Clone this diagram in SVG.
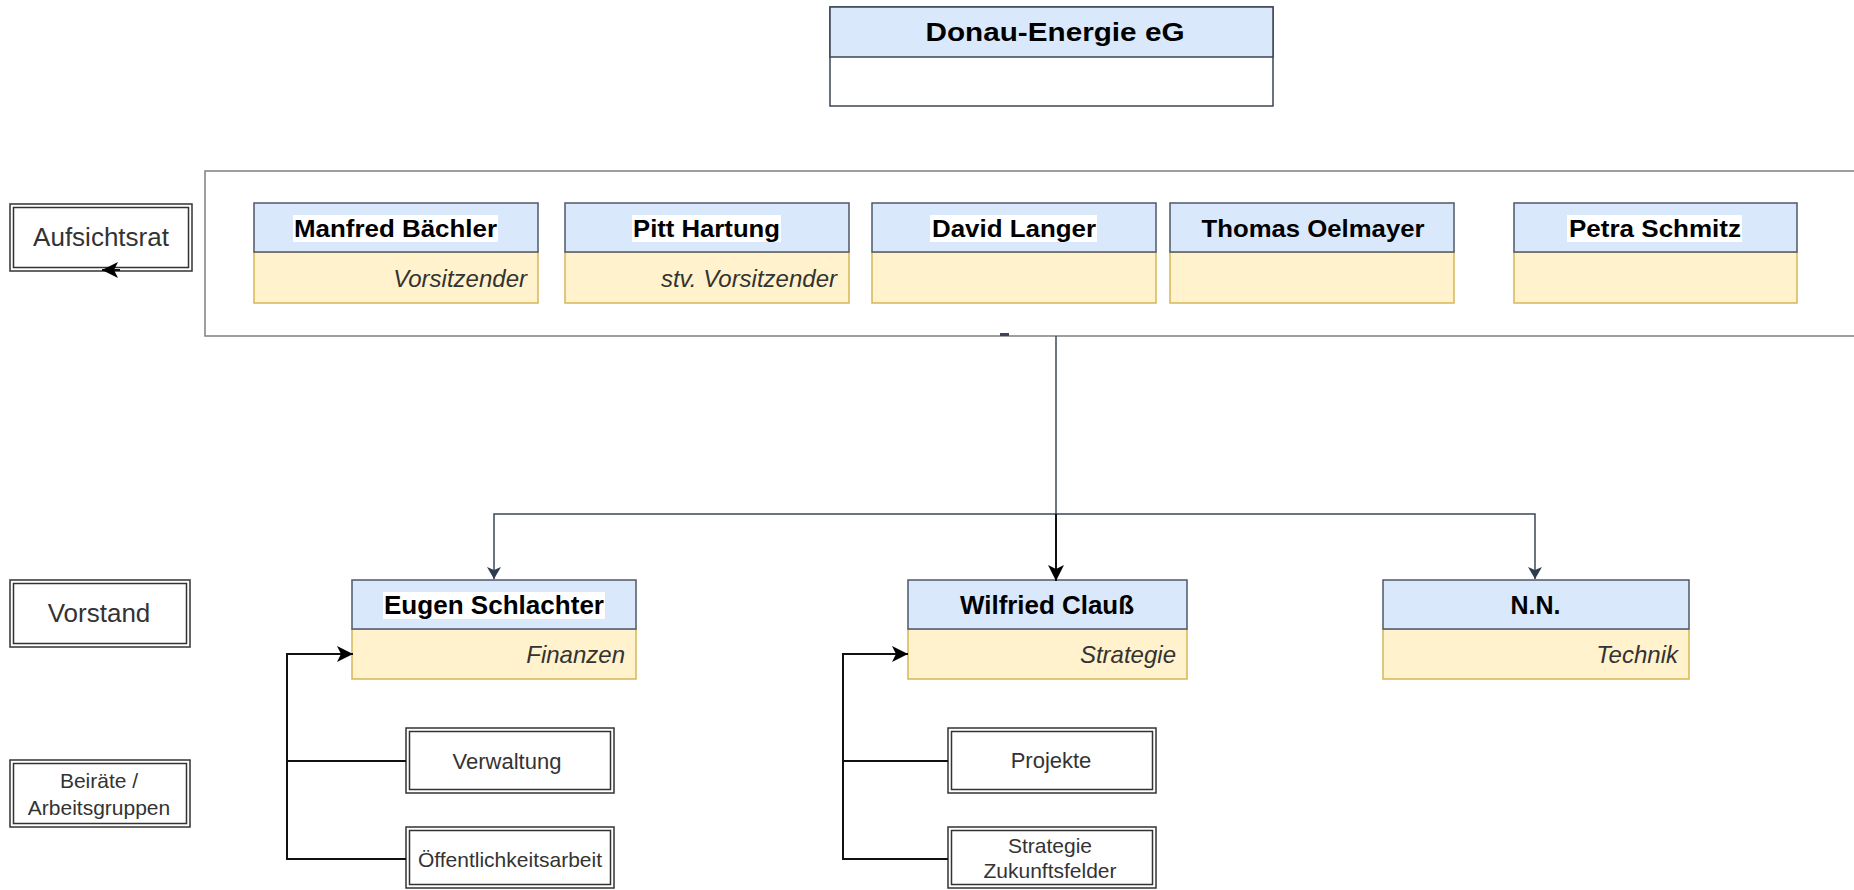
<svg xmlns="http://www.w3.org/2000/svg" width="1854" height="890" viewBox="0 0 1854 890">
<defs>
<marker id="arrDark" markerUnits="userSpaceOnUse" markerWidth="12" markerHeight="14" viewBox="0 0 12 14" refX="12" refY="7" orient="auto"><path d="M0,0 L12,7 L0,14 L3,7 Z" fill="#2f3b4e"/></marker>
<marker id="arrBlack" markerUnits="userSpaceOnUse" markerWidth="16" markerHeight="16" viewBox="0 0 16 16" refX="16" refY="8" orient="auto"><path d="M0,0 L16,8 L0,16 L4,8 Z" fill="#000"/></marker>
</defs>
<style>
.hdr{fill:#dae8fc;stroke:#4e5869;stroke-width:1.5}
.body{fill:#fff2cc;stroke:#d6b656;stroke-width:1.5}
.name{font-family:"Liberation Sans",Arial,sans-serif;font-weight:bold;fill:#000;text-anchor:middle}
.role{font-family:"Liberation Sans",Arial,sans-serif;font-style:italic;font-size:24px;fill:#333;text-anchor:end}
.lbl{font-family:"Liberation Sans",Arial,sans-serif;fill:#333;text-anchor:middle}
.dbl{fill:#fff;stroke:#333;stroke-width:1.5}
.dbli{fill:none;stroke:#333;stroke-width:1.5}
.hl{fill:#fff}
.conn{fill:none;stroke:#3d4658;stroke-width:1.5}
.connB{fill:none;stroke:#111;stroke-width:2}
</style>
<rect width="1854" height="890" fill="#fff"/>

<g id="donau">
<rect x="830" y="7" width="443" height="99" fill="#fff" stroke="#3c4354" stroke-width="1.5"/>
<rect x="830" y="7" width="443" height="50" fill="#dae8fc" stroke="#3c4354" stroke-width="1.5"/>
<text class="name" x="1055" y="41" font-size="26" textLength="259" lengthAdjust="spacingAndGlyphs">Donau-Energie eG</text>
</g>

<g id="aufsichtsrat-container">
<rect x="205" y="171" width="1660" height="165" fill="#fff" stroke="#7f7f7f" stroke-width="1.5"/>
<rect x="1000" y="333" width="9" height="3" fill="#3d4658"/>
</g>

<g id="label-aufsichtsrat">
<rect class="dbl" x="10" y="204" width="182" height="67"/>
<rect class="dbli" x="13.5" y="207.5" width="175" height="60"/>
<text class="lbl" x="101" y="246" font-size="26">Aufsichtsrat</text>
</g>

<g id="manfred">
<rect class="body" x="254" y="252" width="284" height="51"/>
<rect class="hdr" x="254" y="203" width="284" height="49"/>
<rect class="hl" x="293" y="215" width="205" height="27"/>
<text class="name" x="395.5" y="237" font-size="24" textLength="203" lengthAdjust="spacingAndGlyphs">Manfred Bächler</text>
<text class="role" x="527" y="287">Vorsitzender</text>
</g>

<g id="pitt">
<rect class="body" x="565" y="252" width="284" height="51"/>
<rect class="hdr" x="565" y="203" width="284" height="49"/>
<rect class="hl" x="632" y="215" width="149" height="27"/>
<text class="name" x="706.5" y="237" font-size="24" textLength="147" lengthAdjust="spacingAndGlyphs">Pitt Hartung</text>
<text class="role" x="837" y="287">stv. Vorsitzender</text>
</g>

<g id="david">
<rect class="body" x="872" y="252" width="284" height="51"/>
<rect class="hdr" x="872" y="203" width="284" height="49"/>
<rect class="hl" x="930" y="215" width="167" height="27"/>
<text class="name" x="1014" y="237" font-size="24" textLength="164" lengthAdjust="spacingAndGlyphs">David Langer</text>
</g>

<g id="thomas">
<rect class="body" x="1170" y="252" width="284" height="51"/>
<rect class="hdr" x="1170" y="203" width="284" height="49"/>
<text class="name" x="1313" y="237" font-size="24" textLength="223" lengthAdjust="spacingAndGlyphs">Thomas Oelmayer</text>
</g>

<g id="petra">
<rect class="body" x="1514" y="252" width="283" height="51"/>
<rect class="hdr" x="1514" y="203" width="283" height="49"/>
<rect class="hl" x="1567" y="215" width="175" height="27"/>
<text class="name" x="1655" y="237" font-size="24" textLength="172" lengthAdjust="spacingAndGlyphs">Petra Schmitz</text>
</g>

<g id="label-vorstand">
<rect class="dbl" x="10" y="580" width="180" height="67"/>
<rect class="dbli" x="13.5" y="583.5" width="173" height="60"/>
<text class="lbl" x="99" y="622" font-size="26">Vorstand</text>
</g>

<g id="label-beiraete">
<rect class="dbl" x="10" y="760" width="180" height="67"/>
<rect class="dbli" x="13.5" y="763.5" width="173" height="60"/>
<text class="lbl" x="99" y="788" font-size="21">Beiräte /</text>
<text class="lbl" x="99" y="815" font-size="21">Arbeitsgruppen</text>
</g>

<g id="eugen">
<rect class="body" x="352" y="629" width="284" height="50"/>
<rect class="hdr" x="352" y="580" width="284" height="49"/>
<rect class="hl" x="383" y="592" width="222" height="27"/>
<text class="name" x="494" y="614" font-size="25" textLength="220" lengthAdjust="spacingAndGlyphs">Eugen Schlachter</text>
<text class="role" x="625" y="663">Finanzen</text>
</g>

<g id="wilfried">
<rect class="body" x="908" y="629" width="279" height="50"/>
<rect class="hdr" x="908" y="580" width="279" height="49"/>
<text class="name" x="1047" y="614" font-size="25" textLength="174" lengthAdjust="spacingAndGlyphs">Wilfried Clauß</text>
<text class="role" x="1176" y="663">Strategie</text>
</g>

<g id="nn">
<rect class="body" x="1383" y="629" width="306" height="50"/>
<rect class="hdr" x="1383" y="580" width="306" height="49"/>
<text class="name" x="1535.5" y="614" font-size="25">N.N.</text>
<text class="role" x="1678" y="663">Technik</text>
</g>

<g id="verwaltung">
<rect class="dbl" x="406" y="728" width="208" height="65"/>
<rect class="dbli" x="409.5" y="731.5" width="201" height="58"/>
<text class="lbl" x="507" y="769" font-size="22">Verwaltung</text>
</g>

<g id="oeffentlichkeitsarbeit">
<rect class="dbl" x="406" y="827" width="208" height="61"/>
<rect class="dbli" x="409.5" y="830.5" width="201" height="54"/>
<text class="lbl" x="510" y="867" font-size="21">Öffentlichkeitsarbeit</text>
</g>

<g id="projekte">
<rect class="dbl" x="948" y="728" width="208" height="65"/>
<rect class="dbli" x="951.5" y="731.5" width="201" height="58"/>
<text class="lbl" x="1051" y="768" font-size="22">Projekte</text>
</g>

<g id="strategie-zukunftsfelder">
<rect class="dbl" x="948" y="827" width="208" height="61"/>
<rect class="dbli" x="951.5" y="830.5" width="201" height="54"/>
<text class="lbl" x="1050" y="853" font-size="21">Strategie</text>
<text class="lbl" x="1050" y="878" font-size="21">Zukunftsfelder</text>
</g>

<g id="connectors">
<path class="conn" d="M1056,336 L1056,514"/>
<path class="conn" d="M1056,514 L494,514 L494,579" marker-end="url(#arrDark)"/>
<path class="conn" d="M1056,514 L1535,514 L1535,579" marker-end="url(#arrDark)"/>
<path class="connB" d="M1056,514 L1056,581" marker-end="url(#arrBlack)"/>
<path class="connB" d="M406,761 L287,761 L287,654 L353,654" marker-end="url(#arrBlack)"/>
<path class="connB" d="M406,859 L287,859 L287,761"/>
<path class="connB" d="M948,761 L843,761 L843,654 L908,654" marker-end="url(#arrBlack)"/>
<path class="connB" d="M948,859 L843,859 L843,761"/>
<path class="connB" d="M120,270 L102,270" marker-end="url(#arrBlack)"/>
</g>
</svg>
